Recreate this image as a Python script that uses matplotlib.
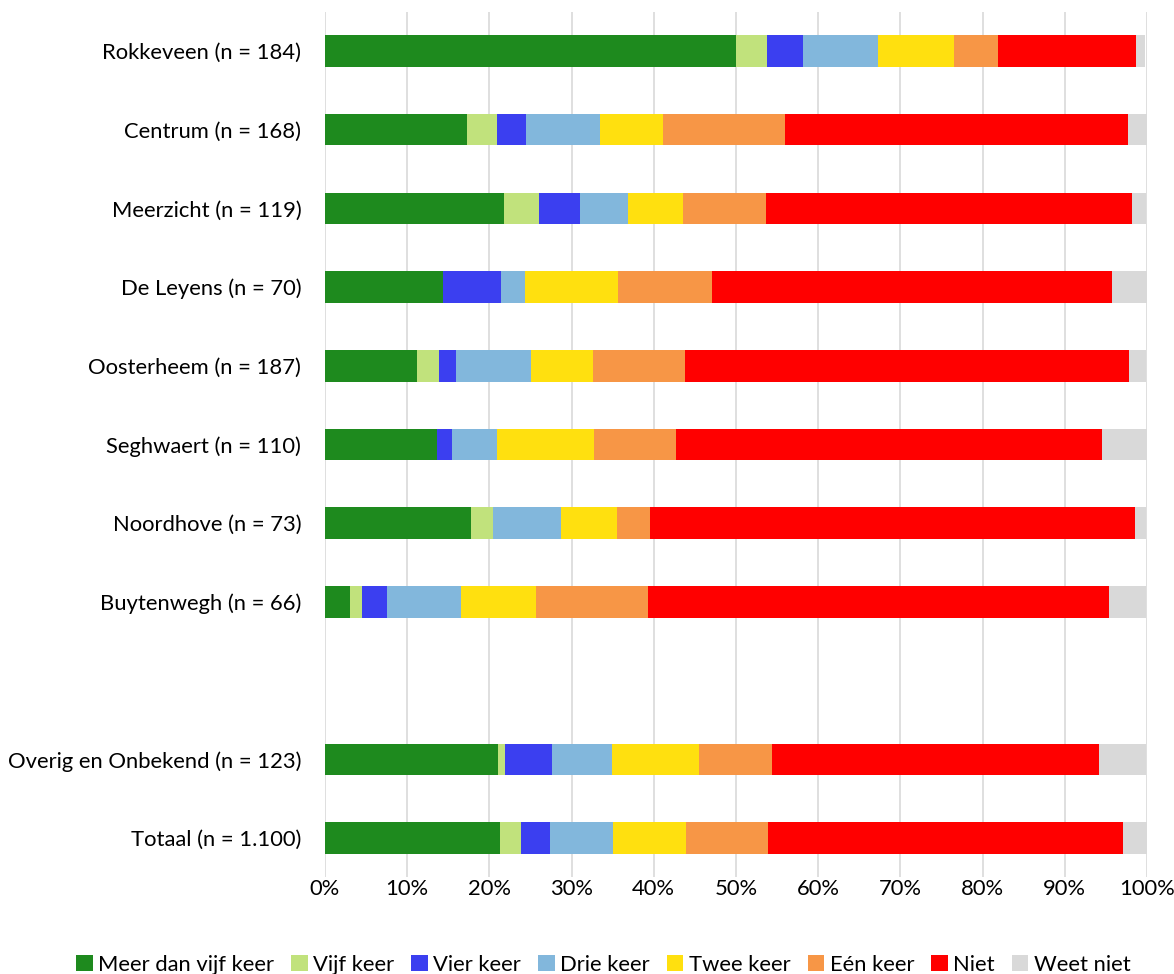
import numpy as np
import matplotlib.pyplot as plt

plt.rcParams['font.family'] = ['Lato', 'DejaVu Sans']

# rows from top to bottom; None is the empty gap row
labels = ['Rokkeveen (n = 184)', 'Centrum (n = 168)', 'Meerzicht (n = 119)',
          'De Leyens (n = 70)', 'Oosterheem (n = 187)', 'Seghwaert (n = 110)',
          'Noordhove (n = 73)', 'Buytenwegh (n = 66)', None,
          'Overig en Onbekend (n = 123)', 'Totaal (n = 1.100)']

series = ['Meer dan vijf keer', 'Vijf keer', 'Vier keer', 'Drie keer',
          'Twee keer', 'Eén keer', 'Niet', 'Weet niet']

# percentages per row (gap row = 0)
meer_dan_vijf = [50.0, 17.3, 21.8, 14.3, 11.2, 13.6, 17.8, 3.0, 0, 21.1, 21.3]
vijf          = [3.8, 3.6, 4.2, 0.0, 2.7, 0.0, 2.7, 1.5, 0, 0.8, 2.5]
vier          = [4.3, 3.6, 5.0, 7.1, 2.1, 1.8, 0.0, 3.0, 0, 5.7, 3.6]
drie          = [9.2, 8.9, 5.9, 2.9, 9.1, 5.5, 8.2, 9.1, 0, 7.3, 7.7]
twee          = [9.2, 7.7, 6.7, 11.4, 7.5, 11.8, 6.8, 9.1, 0, 10.6, 8.8]
een           = [5.4, 14.9, 10.1, 11.4, 11.2, 10.0, 4.1, 13.6, 0, 8.9, 10.0]
niet          = [16.8, 41.7, 44.5, 48.6, 54.0, 51.8, 58.9, 56.1, 0, 39.8, 43.2]
weet_niet     = [1.1, 2.4, 1.7, 4.3, 2.1, 5.5, 1.4, 4.5, 0, 5.7, 2.9]

colors = ['#1E8A1E', '#C1E27C', '#3B3FF0', '#82B7DC',
          '#FFE00F', '#F79646', '#FF0000', '#D9D9D9']

data = [meer_dan_vijf, vijf, vier, drie, twee, een, niet, weet_niet]

fig = plt.figure(figsize=(11.74, 9.74), dpi=100)
ax = fig.add_axes([0.2768, 0.0992, 0.7002, 0.8888])

y = np.arange(len(labels))
left = np.zeros(len(labels))
for name, vals, c in zip(series, data, colors):
    vals = np.array(vals)
    ax.barh(y, vals, left=left, height=0.4, color=c, label=name, zorder=3)
    left += vals

ax.set_ylim(len(labels) - 0.5, -0.5)
ax.set_xlim(0, 100)
ax.set_yticks(y)
ax.set_yticklabels([l if l else '' for l in labels], fontsize=15.8, color='#000000')
ax.set_xticks(np.arange(0, 101, 10))
ax.set_xticklabels([f'{v}%' for v in range(0, 101, 10)], fontsize=15.8)
ax.tick_params(axis='y', length=0, pad=17)
ax.tick_params(axis='x', length=0, pad=1)
ax.grid(axis='x', color='#D9D9D9', linewidth=1.2, zorder=0)
for s in ax.spines.values():
    s.set_visible(False)

fig.legend(loc='lower center', bbox_to_anchor=(0.514, -0.021), ncol=8,
           frameon=False, fontsize=15.8, handlelength=0.75, handleheight=0.75,
           handletextpad=0.25, columnspacing=0.78)

fig.savefig('out.png', dpi=100)
